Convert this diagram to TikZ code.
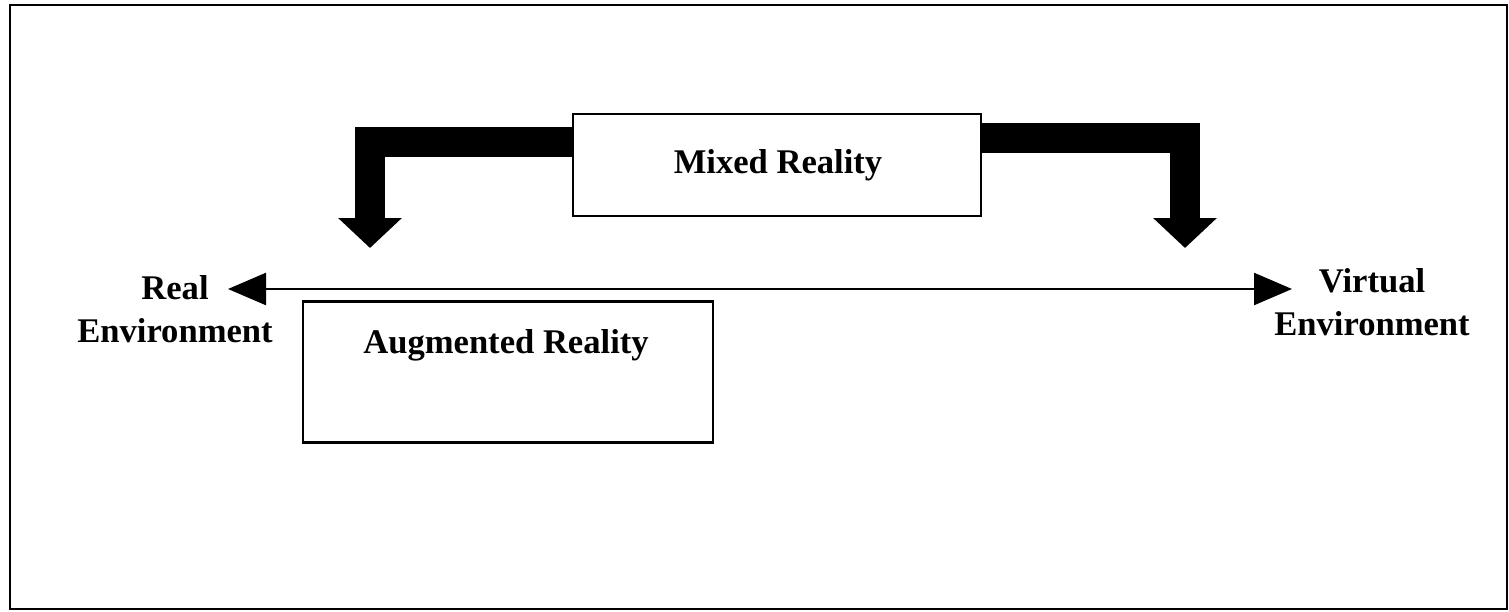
\documentclass[tikz,border=0pt]{standalone}
\usepackage{fontspec}
\setmainfont{Liberation Serif}
\usetikzlibrary{arrows.meta}
\begin{document}
\begin{tikzpicture}[x=0.5pt, y=-0.5pt,
    realitybox/.style ={rectangle, draw, line width=1.3pt, inner sep=0pt},
    endlabel/.style ={align=center, font=\bfseries\fontsize{17.3}{21.5}\selectfont},
    boxtext/.style ={font=\bfseries\fontsize{17.3}{21.5}\selectfont},
    bigarrow/.style ={line width=15pt, line join=miter, -{Triangle[length=15pt, width=31pt]}},
    axis/.style ={line width=1.2pt, {Triangle[length=19pt, width=16pt]}-{Triangle[length=19pt, width=16pt]}}]
   \useasboundingbox (0,0) rectangle (1509,611);
   \draw[line width=1pt] (10,5) rectangle (1507,609);

   \node[realitybox, minimum width=204pt, minimum height=51pt] (MR) at (777,165) {};
   \node[boxtext] (MRT) at (778,165) {Mixed Reality};
   \node[realitybox, minimum width=205pt, minimum height=70.5pt] (AR) at (508,372) {};
   \node[boxtext] (ART) at (506,345) {Augmented Reality};

   \node[endlabel] (RE) at (175,309) {Real\\Environment};
   \node[endlabel] (VE) at (1372,302) {Virtual\\Environment};

   \coordinate (RA) at (228,289);
   \coordinate (VA) at (1292,289);
   \coordinate (LT) at (370,248);
   \coordinate (RT) at (1185,248);

   \draw[axis] (RA) to (VA);

   \draw[bigarrow] (MR.west |- 0,142) -- (LT |- 0,142) -- (LT);
   \draw[bigarrow] (MR.east |- 0,138) -- (RT |- 0,138) -- (RT);
\end{tikzpicture}
\end{document}
